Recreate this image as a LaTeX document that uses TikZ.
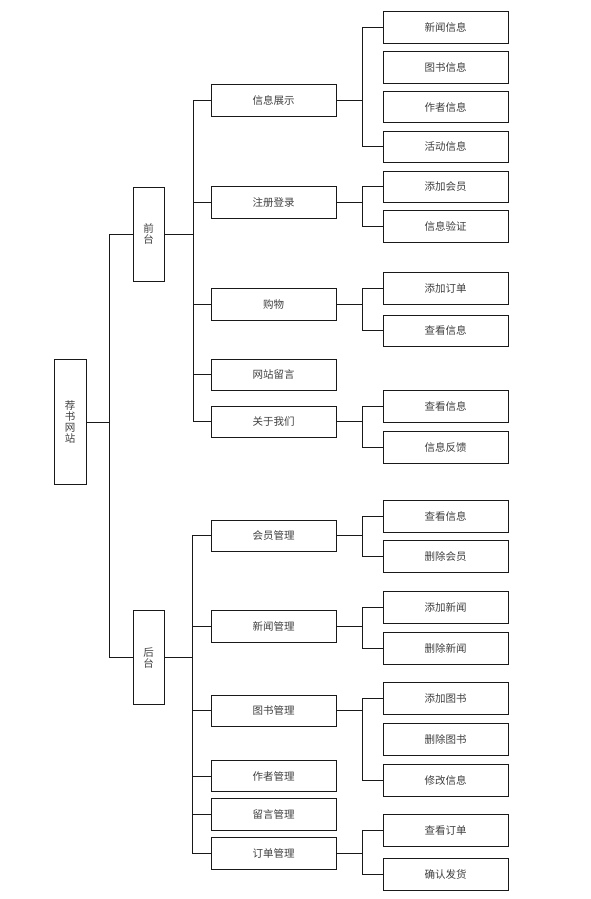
\documentclass[tikz,border=0pt]{standalone}
\usepackage{fontspec}
\setmainfont{Noto Sans CJK SC}
\begin{document}
\begin{tikzpicture}[x=1pt,y=-1pt,
  box/.style={draw=black!90, line width=0.9pt, fill=white, inner sep=0pt,
    text=black!75, font=\fontsize{10.5}{10.7}\selectfont},
  midbox/.style={box, minimum width=125pt, minimum height=31.5pt},
  leafbox/.style={box, minimum width=125pt, minimum height=31.5pt},
  tallbox/.style={box, minimum width=31pt, minimum height=94pt, align=center},
  rootbox/.style={box, minimum width=32pt, minimum height=125.5pt, align=center},
  link/.style={draw=black!90, line width=0.9pt}]
\useasboundingbox (0,0) rectangle (591,899);
\fill[white] (0,0) rectangle (591,899);

% junction columns
\coordinate (t0) at (109,0);
\coordinate (t1) at (193,0);
\coordinate (t1b) at (192,0);
\coordinate (t2) at (362,0);

% root and level 1
\node[rootbox] (root) at (70,422) {荐\\书\\网\\站};
\node[tallbox] (front) at (148.5,234) {前\\台};
\node[tallbox] (back) at (148.5,657.7) {后\\台};

% level 2 front
\node[midbox] (xxzs) at (273.5,100.2) {信息展示};
\node[midbox] (zcdl) at (273.5,202.5) {注册登录};
\node[midbox] (gw) at (273.5,304.2) {购物};
\node[midbox] (wzly) at (273.5,374.7) {网站留言};
\node[midbox] (gywm) at (273.5,421.8) {关于我们};

% level 2 back
\node[midbox] (hygl) at (273.5,535.7) {会员管理};
\node[midbox] (xwgl) at (273.5,626.3) {新闻管理};
\node[midbox] (tsgl) at (273.5,710.8) {图书管理};
\node[midbox] (zzgl) at (273.5,776) {作者管理};
\node[midbox] (lygl) at (273.5,814.2) {留言管理};
\node[midbox] (ddgl) at (273.5,853.5) {订单管理};

% leaves
\node[leafbox] (l1) at (445.5,27.7) {新闻信息};
\node[leafbox] (l2) at (445.5,67.3) {图书信息};
\node[leafbox] (l3) at (445.5,107) {作者信息};
\node[leafbox] (l4) at (445.5,146.7) {活动信息};
\node[leafbox] (l5) at (445.5,186.7) {添加会员};
\node[leafbox] (l6) at (445.5,226.4) {信息验证};
\node[leafbox] (l7) at (445.5,288.5) {添加订单};
\node[leafbox] (l8) at (445.5,330.8) {查看信息};
\node[leafbox] (l9) at (445.5,406.5) {查看信息};
\node[leafbox] (l10) at (445.5,447.2) {信息反馈};
\node[leafbox] (l11) at (445.5,516.5) {查看信息};
\node[leafbox] (l12) at (445.5,556.5) {删除会员};
\node[leafbox] (l13) at (445.5,607.3) {添加新闻};
\node[leafbox] (l14) at (445.5,648.3) {删除新闻};
\node[leafbox] (l15) at (445.5,698.5) {添加图书};
\node[leafbox] (l16) at (445.5,739.2) {删除图书};
\node[leafbox] (l17) at (445.5,780.2) {修改信息};
\node[leafbox] (l18) at (445.5,830.2) {查看订单};
\node[leafbox] (l19) at (445.5,874.2) {确认发货};

% root -> level 1
\draw[link] (root.east) -- (root.east -| t0);
\draw[link] (front.west) -- (front.west -| t0) -- (back.west -| t0) -- (back.west);

% front -> level 2
\draw[link] (front.east) -- (front.east -| t1);
\draw[link] (xxzs.west) -- (xxzs.west -| t1) -- (gywm.west -| t1) -- (gywm.west);
\draw[link] (zcdl.west) -- (zcdl.west -| t1);
\draw[link] (gw.west) -- (gw.west -| t1);
\draw[link] (wzly.west) -- (wzly.west -| t1);

% back -> level 2
\draw[link] (back.east) -- (back.east -| t1b);
\draw[link] (hygl.west) -- (hygl.west -| t1b) -- (ddgl.west -| t1b) -- (ddgl.west);
\draw[link] (xwgl.west) -- (xwgl.west -| t1b);
\draw[link] (tsgl.west) -- (tsgl.west -| t1b);
\draw[link] (zzgl.west) -- (zzgl.west -| t1b);
\draw[link] (lygl.west) -- (lygl.west -| t1b);

% level 2 -> leaves
\draw[link] (xxzs.east) -- (xxzs.east -| t2);
\draw[link] (l1.west) -- (l1.west -| t2) -- (l4.west -| t2) -- (l4.west);
\draw[link] (zcdl.east) -- (zcdl.east -| t2);
\draw[link] (l5.west) -- (l5.west -| t2) -- (l6.west -| t2) -- (l6.west);
\draw[link] (gw.east) -- (gw.east -| t2);
\draw[link] (l7.west) -- (l7.west -| t2) -- (l8.west -| t2) -- (l8.west);
\draw[link] (gywm.east) -- (gywm.east -| t2);
\draw[link] (l9.west) -- (l9.west -| t2) -- (l10.west -| t2) -- (l10.west);
\draw[link] (hygl.east) -- (hygl.east -| t2);
\draw[link] (l11.west) -- (l11.west -| t2) -- (l12.west -| t2) -- (l12.west);
\draw[link] (xwgl.east) -- (xwgl.east -| t2);
\draw[link] (l13.west) -- (l13.west -| t2) -- (l14.west -| t2) -- (l14.west);
\draw[link] (tsgl.east) -- (tsgl.east -| t2);
\draw[link] (l15.west) -- (l15.west -| t2) -- (l17.west -| t2) -- (l17.west);
\draw[link] (ddgl.east) -- (ddgl.east -| t2);
\draw[link] (l18.west) -- (l18.west -| t2) -- (l19.west -| t2) -- (l19.west);
\end{tikzpicture}
\end{document}
